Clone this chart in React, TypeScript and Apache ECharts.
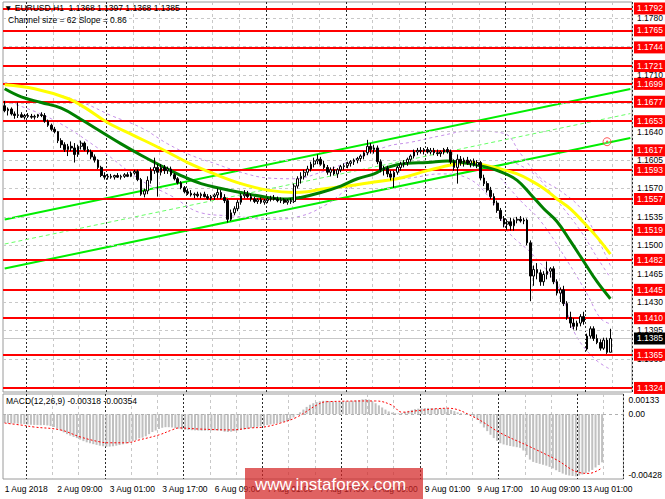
import React, { useEffect, useRef } from 'react';
import * as echarts from 'echarts';

const FONT = '"Liberation Sans", Arial, sans-serif';
const BASE = 1.13;
const PIP = 0.0001;
const MACD_UNIT = 0.00001;
const N_SLOTS = 189;

// x-axis tick labels, one every 16 hourly bars starting at bar 0
const xTickLabels = [
  '1 Aug 2018', '2 Aug 09:00', '3 Aug 01:00', '3 Aug 17:00', '6 Aug 09:00', '7 Aug 01:00',
  '7 Aug 17:00', '8 Aug 09:00', '9 Aug 01:00', '9 Aug 17:00', '10 Aug 09:00', '13 Aug 01:00',
];

// hourly candles, pips above 1.1300
const opens = [
  372, 366, 368, 362, 360, 361, 358, 360, 359, 358,
  359, 361, 360, 353, 348, 343, 340, 329, 324, 318,
  322, 320, 312, 322, 326, 318, 315, 309, 305, 296,
  286, 284, 285, 284, 286, 284, 285, 287, 285, 289,
  291, 281, 263, 267, 280, 292, 296, 290, 296, 292,
  294, 287, 282, 277, 271, 266, 264, 262, 263, 261,
  263, 260, 258, 260, 262, 265, 259, 255, 232, 240,
  245, 253, 261, 263, 260, 257, 254, 256, 253, 255,
  257, 258, 257, 255, 256, 253, 255, 254, 273, 282,
  285, 290, 294, 300, 304, 306, 300, 296, 290, 293,
  288, 293, 297, 298, 301, 303, 305, 307, 310, 314,
  322, 318, 320, 303, 293, 295, 288, 284, 290, 296,
  300, 302, 306, 310, 315, 317, 316, 318, 315, 317,
  314, 313, 315, 318, 315, 303, 296, 306, 302, 305,
  301, 304, 299, 302, 283, 276, 268, 260, 252, 243,
  233, 226, 229, 224, 231, 232, 230, 231, 203, 162,
  170, 166, 155, 164, 168, 171, 155, 141, 145, 128,
  111, 104, 100, 104, 112, 72, 88, 97, 85, 80,
  73, 83, 68,
];
const highs = [
  378, 370, 370, 365, 376, 364, 362, 363, 362, 361,
  362, 364, 363, 355, 350, 346, 341, 332, 327, 325,
  328, 326, 324, 329, 328, 322, 318, 312, 306, 298,
  290, 288, 288, 287, 289, 287, 289, 290, 291, 293,
  293, 283, 270, 285, 296, 308, 300, 300, 299, 297,
  297, 289, 284, 279, 273, 270, 268, 265, 266, 265,
  266, 263, 262, 264, 270, 268, 263, 257, 244, 248,
  256, 264, 268, 267, 263, 260, 258, 259, 257, 259,
  261, 262, 260, 259, 258, 257, 258, 276, 285, 290,
  293, 298, 303, 308, 312, 309, 304, 299, 296, 297,
  295, 299, 301, 303, 305, 307, 309, 312, 316, 330,
  326, 324, 323, 306, 298, 298, 292, 292, 298, 303,
  305, 308, 312, 318, 320, 321, 320, 321, 320, 320,
  318, 317, 320, 321, 318, 306, 312, 310, 308, 309,
  306, 307, 305, 304, 287, 279, 272, 264, 255, 246,
  236, 232, 234, 233, 235, 236, 234, 233, 206, 175,
  178, 170, 168, 180, 173, 174, 158, 148, 150, 131,
  118, 110, 107, 115, 118, 91, 100, 100, 90, 84,
  86, 86, 97,
];
const lows = [
  364, 360, 360, 356, 357, 357, 355, 357, 356, 355,
  357, 358, 351, 346, 341, 338, 326, 320, 315, 310,
  316, 302, 309, 318, 316, 312, 306, 302, 294, 284,
  281, 281, 282, 281, 283, 281, 283, 284, 284, 287,
  279, 261, 259, 263, 276, 288, 260, 286, 288, 288,
  285, 280, 275, 269, 264, 262, 260, 258, 259, 258,
  259, 256, 255, 256, 258, 257, 252, 228, 230, 237,
  242, 250, 258, 258, 254, 252, 251, 251, 250, 252,
  254, 255, 253, 252, 251, 250, 251, 252, 270, 276,
  281, 286, 291, 296, 300, 298, 294, 287, 285, 286,
  283, 290, 293, 295, 297, 299, 301, 303, 306, 311,
  313, 313, 300, 290, 286, 284, 280, 271, 287, 292,
  296, 298, 303, 307, 311, 313, 312, 313, 312, 311,
  310, 309, 312, 313, 300, 292, 276, 298, 297, 299,
  296, 297, 295, 280, 273, 265, 257, 249, 240, 230,
  222, 219, 218, 218, 227, 228, 226, 200, 131, 150,
  158, 150, 150, 158, 160, 152, 138, 130, 125, 108,
  98, 96, 95, 100, 102, 70, 85, 82, 78, 70,
  71, 66, 68,
];
const closes = [
  366, 368, 362, 360, 361, 358, 360, 359, 358, 359,
  361, 360, 353, 348, 343, 340, 329, 324, 318, 322,
  320, 312, 322, 326, 318, 315, 309, 305, 296, 286,
  284, 285, 284, 286, 284, 285, 287, 285, 289, 291,
  281, 263, 267, 280, 292, 296, 290, 296, 292, 294,
  287, 282, 277, 271, 266, 264, 262, 263, 261, 263,
  260, 258, 260, 262, 265, 259, 255, 232, 240, 245,
  253, 261, 263, 260, 257, 254, 256, 253, 255, 257,
  258, 257, 255, 256, 253, 255, 254, 273, 282, 285,
  290, 294, 300, 304, 306, 300, 296, 290, 293, 288,
  293, 297, 298, 301, 303, 305, 307, 310, 314, 322,
  318, 320, 303, 293, 295, 288, 284, 290, 296, 300,
  302, 306, 310, 315, 317, 316, 318, 315, 317, 314,
  313, 315, 318, 315, 303, 296, 306, 302, 305, 301,
  304, 299, 302, 283, 276, 268, 260, 252, 243, 233,
  226, 229, 224, 231, 232, 230, 231, 203, 162, 170,
  166, 155, 164, 168, 171, 155, 141, 145, 128, 111,
  104, 100, 104, 112, 106, 88, 97, 85, 80, 73,
  83, 68, 85,
];

// moving averages, [bar, pips above 1.1300] read at sample bars
const maYellow: [number, number][] = [
  [0, 398], [9, 393], [19, 381], [24, 370], [31, 351], [39, 335], [47, 319], [55, 302],
  [63, 288], [71, 276], [79, 268], [87, 265], [91, 266], [95, 269], [103, 273], [111, 278],
  [119, 283], [127, 292], [135, 300], [139, 302], [143, 300], [149, 294], [154, 288],
  [158, 280], [162, 270], [166, 257], [170, 245], [174, 228], [178, 210], [182, 189],
];
const maGreen: [number, number][] = [
  [0, 393], [5, 383], [11, 376], [17, 369], [23, 355], [29, 340], [35, 325], [41, 311],
  [47, 298], [53, 286], [59, 276], [65, 270], [71, 265], [79, 259], [85, 257], [89, 259],
  [95, 265], [101, 273], [106, 282], [111, 288], [115, 296], [121, 301], [127, 302],
  [133, 304], [139, 301], [145, 296], [150, 289], [154, 280], [158, 263], [162, 245],
  [166, 229], [170, 205], [174, 180], [178, 155], [182, 134],
];
// violet dashed bands
const bandUpper: [number, number][] = [
  [0, 401], [14, 388], [24, 375], [32, 360], [41, 345], [49, 325], [56, 311], [63, 301],
  [71, 290], [79, 283], [87, 282], [95, 290], [104, 304], [115, 322], [122, 327], [131, 335],
  [140, 341], [150, 338], [155, 313], [161, 283], [167, 267], [173, 246], [177, 218], [182, 175],
];
const bandLower: [number, number][] = [
  [0, 378], [14, 356], [29, 317], [41, 280], [50, 261], [59, 240], [69, 236], [79, 232],
  [89, 236], [97, 251], [104, 271], [113, 280], [122, 283], [131, 288], [139, 283], [147, 251],
  [151, 218], [159, 187], [167, 144], [171, 94], [177, 61], [182, 47],
];
const bandInnerLow: [number, number][] = [
  [149, 283], [155, 255], [161, 230], [169, 181], [175, 140], [179, 110], [182, 103],
];
const bandInnerHigh: [number, number][] = [
  [152, 304], [159, 288], [166, 255], [173, 218], [178, 185], [182, 160],
];

// regression channel (price at first and last slot)
const channelUpper: [number, number][] = [[0, 1.15318], [188, 1.16927]];
const channelMiddle: [number, number][] = [[0, 1.15015], [188, 1.16624]];
const channelLower: [number, number][] = [[0, 1.14713], [188, 1.16322]];
const anchorPoint: [number, number][] = [[181, 1.16277]];

// horizontal levels and price grid
const levels = [
  1.1792, 1.1765, 1.1744, 1.1721, 1.1699, 1.1677, 1.1653, 1.1617, 1.1593, 1.1557,
  1.1519, 1.1482, 1.1445, 1.141, 1.1365, 1.1324,
];
const priceTicks = [
  1.136, 1.1395, 1.143, 1.1465, 1.15, 1.1535, 1.157, 1.1605, 1.164, 1.1675, 1.171, 1.1745, 1.178,
];

// MACD (units of 0.00001)
const macdHist = [
  -58, -60, -62, -61, -63, -64, -66, -68, -70, -71,
  -72, -73, -72, -74, -78, -85, -95, -108, -120, -132,
  -142, -150, -158, -168, -178, -186, -192, -198, -203, -208,
  -212, -215, -214, -212, -208, -204, -199, -193, -186, -178,
  -170, -160, -155, -146, -132, -118, -108, -98, -90, -86,
  -86, -88, -92, -96, -100, -103, -105, -106, -107, -108,
  -109, -109, -108, -108, -107, -108, -110, -116, -118, -116,
  -112, -108, -104, -100, -96, -92, -88, -84, -80, -76,
  -72, -68, -64, -60, -56, -52, -48, -40, -22, -4,
  12, 30, 48, 62, 72, 80, 85, 88, 88, 86,
  84, 82, 82, 83, 85, 86, 88, 90, 93, 98,
  100, 96, 86, 72, 58, 44, 30, 18, 10, 6,
  5, 8, 14, 22, 28, 33, 36, 38, 40, 41,
  40, 38, 36, 37, 38, 35, 28, 20, 12, 6,
  2, -2, -8, -18, -38, -62, -88, -112, -136, -158,
  -176, -192, -200, -205, -210, -214, -218, -222, -240, -270,
  -300, -315, -322, -328, -334, -340, -348, -358, -370, -382,
  -392, -400, -405, -408, -410, -405, -398, -390, -380, -368,
  -352, -336, -318,
];
const macdSignal: [number, number][] = [
  [0, -59], [5, -72], [9, -85], [17, -104], [23, -150], [29, -183], [32, -189], [37, -189],
  [41, -170], [47, -137], [51, -104], [53, -91], [59, -98], [69, -104], [75, -91], [79, -85],
  [84, -59], [89, -20], [95, 59], [98, 82], [113, 87], [118, 59], [121, 13], [127, 26],
  [135, 39], [143, -20], [151, -124], [160, -215], [168, -300], [175, -385], [178, -391],
  [182, -354],
];
const macdTickValues = [0.00133, 0, -0.00428];
const macdTickLabels = ['0.00133', '0.00', '-0.00428'];

const toPrice = (v: number) => Number((BASE + v * PIP).toFixed(5));

function buildOption() {
  const cats = Array.from({ length: N_SLOTS }, (_, i) => String(i));
  const candles = opens.map((o, i) => [toPrice(o), toPrice(closes[i]), toPrice(lows[i]), toPrice(highs[i])]);
  const pts = (arr: [number, number][]) => arr.map(([i, v]) => [i, toPrice(v)]);
  const lastPrice = toPrice(closes[closes.length - 1]);
  const txt = { fontFamily: FONT, fontSize: 8.5, color: '#000' };

  const gridSplit = { color: '#c8c8c8', type: [3, 3], width: 1 };
  const sepSplit = { color: '#2a2a2a', type: [2, 2], width: 1 };
  const baseX = (grid: number) => ({
    gridIndex: grid, type: 'category', data: cats, boundaryGap: true,
    axisLine: { show: false }, axisTick: { show: false }, axisLabel: { show: false },
  });

  const lineSeries = (name: string, data: any[], color: string, width: number, type: any, z: number, smooth: number | boolean) => ({
    name, type: 'line', xAxisIndex: 0, yAxisIndex: 0, data, showSymbol: false, symbol: 'none',
    smooth, silent: true, z, lineStyle: { color, width, type },
  });

  return {
    animation: false,
    backgroundColor: '#ffffff',
    textStyle: { fontFamily: FONT },
    grid: [
      { left: 3, top: 2, width: 629, height: 390, show: true, borderColor: '#9a9a9a', borderWidth: 1, backgroundColor: '#fff' },
      { left: 3, top: 394, width: 629, height: 85, show: true, borderColor: '#9a9a9a', borderWidth: 1, backgroundColor: '#fff' },
    ],
    xAxis: [
      { ...baseX(0), splitLine: { show: true, interval: (i: number) => i % 8 === 7 && i % 24 !== 7, lineStyle: gridSplit } },
      { ...baseX(0), position: 'top', splitLine: { show: true, interval: (i: number) => i % 24 === 7, lineStyle: sepSplit } },
      {
        ...baseX(1),
        splitLine: { show: true, interval: (i: number) => i % 8 === 7 && i % 24 !== 7, lineStyle: gridSplit },
        axisLabel: {
          show: true, ...txt, align: 'left', margin: 5,
          interval: (i: number) => i % 16 === 0 && i / 16 < xTickLabels.length,
          formatter: (_v: string, i: number) => xTickLabels[i / 16] ?? '',
        },
      },
      { ...baseX(1), position: 'top', splitLine: { show: true, interval: (i: number) => i % 24 === 7, lineStyle: sepSplit } },
    ],
    yAxis: [
      {
        gridIndex: 0, type: 'value', position: 'right', min: 1.1319, max: 1.18, scale: true,
        axisLine: { show: false }, axisTick: { show: false }, axisLabel: { show: false }, splitLine: { show: false },
      },
      {
        gridIndex: 1, type: 'value', position: 'right', min: -0.00428, max: 0.00133,
        axisLine: { show: false }, axisTick: { show: false }, splitLine: { show: false },
        axisLabel: {
          show: true, ...txt, margin: 5, customValues: macdTickValues, showMinLabel: true, showMaxLabel: true,
          formatter: (v: number) => {
            const idx = macdTickValues.findIndex((t) => Math.abs(t - v) < 1e-9);
            const s = idx >= 0 ? macdTickLabels[idx] : '';
            if (v > 1e-9) return `{t|${s}}`;
            if (v < -1e-9) return `{b|${s}}`;
            return `{m|${s}}`;
          },
          rich: {
            t: { ...txt, padding: [11, 0, 0, 0] },
            b: { ...txt, padding: [0, 0, 9, 0] },
            m: { ...txt },
          },
        },
      },
    ],
    series: [
      {
        name: 'priceGrid', type: 'line', xAxisIndex: 0, yAxisIndex: 0, data: [], z: 1, silent: true,
        markLine: {
          silent: true, symbol: ['none', 'none'], animation: false, precision: 5,
          lineStyle: { color: '#c8c8c8', type: [3, 3], width: 1 },
          label: { show: true, position: 'end', distance: 5, ...txt, formatter: (p: any) => Number(p.value).toFixed(4) },
          data: priceTicks.map((v) => ({ yAxis: v })),
        },
      },
      {
        name: 'levels', type: 'line', xAxisIndex: 0, yAxisIndex: 0, data: [], z: 2, silent: true,
        markLine: {
          silent: true, symbol: ['none', 'none'], animation: false, precision: 5,
          lineStyle: { color: '#ff0000', type: 'solid', width: 2 },
          label: {
            show: true, position: 'end', distance: 2, fontFamily: FONT, fontSize: 8.5, color: '#ffffff',
            backgroundColor: '#ff0000', padding: [2, 3, 1, 3], lineHeight: 9,
            formatter: (p: any) => Number(p.value).toFixed(4),
          },
          data: levels.map((v) => ({ yAxis: v })),
        },
      },
      {
        name: 'lastPrice', type: 'line', xAxisIndex: 0, yAxisIndex: 0, data: [], z: 3, silent: true,
        markLine: {
          silent: true, symbol: ['none', 'none'], animation: false, precision: 5,
          lineStyle: { color: '#c8c8c8', type: 'solid', width: 1 },
          label: {
            show: true, position: 'end', distance: 2, fontFamily: FONT, fontSize: 8.5, color: '#ffffff',
            backgroundColor: '#000000', padding: [2, 3, 1, 3], lineHeight: 9,
            formatter: (p: any) => Number(p.value).toFixed(4),
          },
          data: [{ yAxis: lastPrice }],
        },
      },
      lineSeries('channelUpper', channelUpper, '#00ee00', 2, 'solid', 4, false),
      lineSeries('channelMiddle', channelMiddle, '#66ff66', 1, [4, 3], 4, false),
      lineSeries('channelLower', channelLower, '#00ee00', 2, 'solid', 4, false),
      lineSeries('bandUpper', pts(bandUpper), '#c58fe8', 1, [3, 3], 4, 0.4),
      lineSeries('bandLower', pts(bandLower), '#c58fe8', 1, [3, 3], 4, 0.4),
      lineSeries('bandInnerLow', pts(bandInnerLow), '#c58fe8', 1, [3, 3], 4, 0.4),
      lineSeries('bandInnerHigh', pts(bandInnerHigh), '#c58fe8', 1, [3, 3], 4, 0.4),
      lineSeries('maYellow', pts(maYellow), '#ffff00', 3, 'solid', 5, 0.4),
      lineSeries('maGreen', pts(maGreen), '#008000', 3, 'solid', 5, 0.4),
      {
        name: 'EURUSD', type: 'candlestick', xAxisIndex: 0, yAxisIndex: 0, data: candles, z: 6,
        barWidth: '65%', silent: true,
        itemStyle: { color: '#ffffff', color0: '#000000', borderColor: '#000000', borderColor0: '#000000', borderWidth: 1 },
      },
      {
        name: 'anchor', type: 'scatter', xAxisIndex: 0, yAxisIndex: 0, data: anchorPoint, z: 7, silent: true,
        symbol: 'circle', symbolSize: 8,
        itemStyle: { color: 'rgba(255,255,255,0.3)', borderColor: '#ff3030', borderWidth: 1 },
      },
      {
        name: 'anchorDot', type: 'scatter', xAxisIndex: 0, yAxisIndex: 0, data: anchorPoint, z: 7, silent: true,
        symbol: 'circle', symbolSize: 2, itemStyle: { color: '#ff3030' },
      },
      {
        name: 'MACD', type: 'bar', xAxisIndex: 2, yAxisIndex: 1, silent: true, z: 3,
        data: macdHist.map((v) => Number((v * MACD_UNIT).toFixed(5))),
        barWidth: '62%', itemStyle: { color: '#c0c0c0' },
        markLine: {
          silent: true, symbol: ['none', 'none'], animation: false, precision: 5,
          lineStyle: { color: '#b0b0b0', type: [3, 3], width: 1 }, label: { show: false },
          data: [{ yAxis: 0 }],
        },
      },
      {
        name: 'Signal', type: 'line', xAxisIndex: 2, yAxisIndex: 1, silent: true, z: 4,
        data: macdSignal.map(([i, v]) => [i, Number((v * MACD_UNIT).toFixed(5))]),
        showSymbol: false, symbol: 'none', smooth: 0.4,
        lineStyle: { color: '#ff0000', width: 1, type: [2, 2] },
      },
    ],
    graphic: [
      {
        type: 'text', left: 4, top: 3, z: 50, silent: true,
        style: { text: '\u25BC EURUSD,H1  1.1368 1.1397 1.1368 1.1385', font: `8.5px ${FONT}`, fill: '#000' },
      },
      {
        type: 'text', left: 8, top: 15, z: 50, silent: true,
        style: { text: 'Channel size = 62 Slope = 0.86', font: `8.5px ${FONT}`, fill: '#000' },
      },
      {
        type: 'text', left: 6, top: 396, z: 50, silent: true,
        style: { text: 'MACD(12,26,9) -0.00318 -0.00354', font: `8.5px ${FONT}`, fill: '#000' },
      },
      {
        type: 'rect', left: 245, top: 468, z: 60, silent: true,
        shape: { width: 178, height: 31 },
        style: { fill: 'rgba(212,38,38,0.72)' },
      },
      {
        type: 'text', left: 255, top: 476, z: 61, silent: true,
        style: { text: 'www.instaforex.com', font: `17px ${FONT}`, fill: '#ffffff' },
      },
    ],
  };
}

export default function App() {
  const ref = useRef<HTMLDivElement>(null);
  useEffect(() => {
    const el = ref.current;
    if (!el) return;
    const chart = echarts.init(el, null, { renderer: 'svg' });
    chart.setOption(buildOption() as any);
    return () => chart.dispose();
  }, []);
  return (
    <div
      ref={ref}
      style={{ position: 'fixed', left: 0, top: 0, width: 665, height: 499, background: '#fff' }}
    />
  );
}
